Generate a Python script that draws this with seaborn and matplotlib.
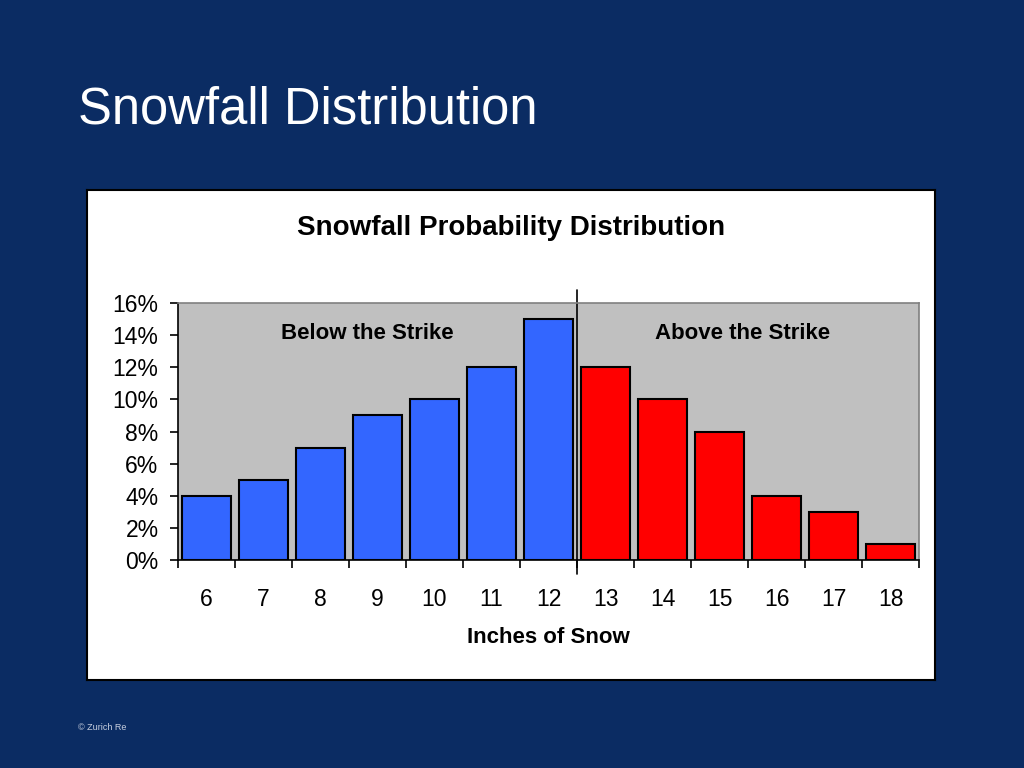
import pandas as pd
import seaborn as sns
import matplotlib.pyplot as plt
from matplotlib.ticker import PercentFormatter, FixedLocator

inches = ["6", "7", "8", "9", "10", "11", "12", "13", "14", "15", "16", "17", "18"]
prob = [4, 5, 7, 9, 10, 12, 15, 12, 10, 8, 4, 3, 1]
side = ["Below"] * 7 + ["Above"] * 6

df = pd.DataFrame({"inches": inches, "prob": prob, "side": side})

sns.set_style("white")
plt.rcParams["font.family"] = ["Liberation Sans", "DejaVu Sans"]
plt.rcParams["text.color"] = "black"
plt.rcParams["xtick.color"] = "black"
plt.rcParams["ytick.color"] = "black"
plt.rcParams["axes.labelcolor"] = "black"

fig = plt.figure(figsize=(10.24, 7.68), dpi=100)
fig.patch.set_facecolor("#0b2c63")

# white chart panel
bg = fig.add_axes([0.085, 0.1146, 0.828, 0.638])
bg.set_facecolor("white")
bg.set_xticks([])
bg.set_yticks([])
for s in bg.spines.values():
    s.set_color("black")
    s.set_linewidth(1.5)

fig.text(0.076, 0.857, "Snowfall Distribution", color="white", fontsize=36.5,
         va="center", ha="left")
fig.text(0.076, 0.053, "\u00a9 Zurich Re", color="#c8d0e0", fontsize=6.5,
         va="center", ha="left")
fig.text(0.499, 0.703, "Snowfall Probability Distribution", fontsize=20,
         fontweight="bold", ha="center", va="center")

ax = fig.add_axes([0.1738, 0.2708, 0.7237, 0.3347])
ax.set_facecolor("#c0c0c0")
sns.barplot(data=df, x="inches", y="prob", hue="side", dodge=False,
            palette={"Below": "#3366ff", "Above": "#ff0000"}, saturation=1,
            width=0.85, edgecolor="black", linewidth=1.5, legend=False, ax=ax)

ax.set_xlim(-0.5, 12.5)
ax.set_ylim(0, 16)
ax.set_yticks(range(0, 17, 2))
ax.yaxis.set_major_formatter(PercentFormatter(decimals=0))
ax.tick_params(axis="y", direction="out", length=6, width=1.2, labelsize=16.5,
               left=True, pad=8)
ax.tick_params(axis="x", which="major", length=0, labelsize=16.5, pad=20)
ax.xaxis.set_minor_locator(FixedLocator([i - 0.5 for i in range(14)]))
ax.tick_params(axis="x", which="minor", direction="out", length=6, width=1.2,
               bottom=True)

for s in ["left", "bottom"]:
    ax.spines[s].set_color("black")
    ax.spines[s].set_linewidth(1.2)
for s in ["top", "right"]:
    ax.spines[s].set_color("#808080")
    ax.spines[s].set_linewidth(1.2)

ax.set_xlabel("Inches of Snow", fontsize=16, fontweight="bold", labelpad=12)
ax.set_ylabel("")

# strike line
ax.plot([6.5, 6.5], [-0.9, 16.8], color="black", linewidth=1.2, clip_on=False)

ax.text(2.82, 14.1, "Below the Strike", fontsize=16, fontweight="bold",
        ha="center", va="center")
ax.text(9.41, 14.1, "Above the Strike", fontsize=16, fontweight="bold",
        ha="center", va="center")

fig.savefig("out.png", dpi=100, facecolor=fig.get_facecolor())
